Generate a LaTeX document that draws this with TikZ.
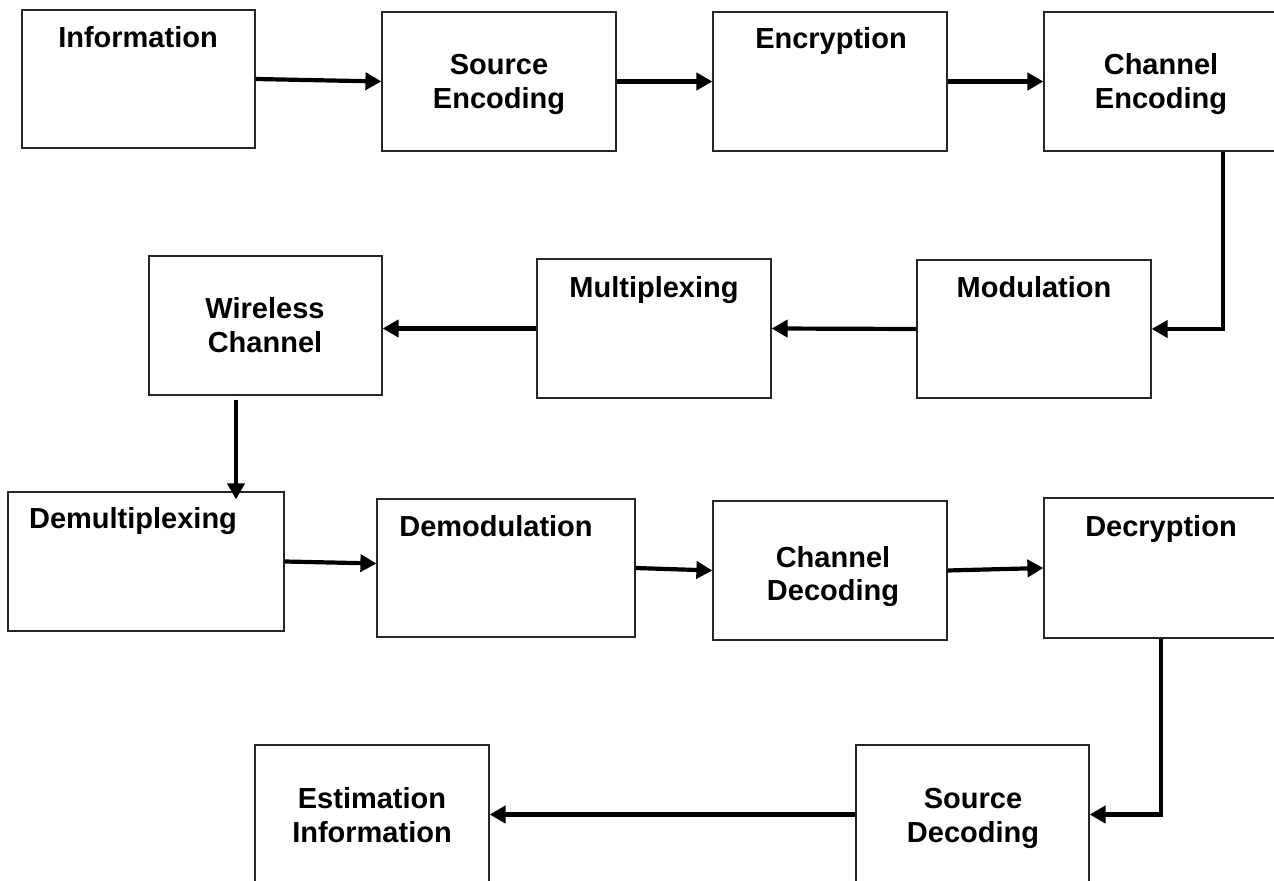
\documentclass[tikz,border=0pt]{standalone}
\usepackage{fontspec}
\setmainfont{Liberation Sans}
\usetikzlibrary{arrows.meta,fit,calc}

\tikzset{
  stage/.style={draw=black!85, line width=0.6pt, inner sep=0pt, rectangle},
  lbl/.style={font=\bfseries\fontsize{14.5pt}{17pt}\selectfont, align=center, inner sep=0pt, anchor=base},
  flow/.style={line width=2.1pt, -{Triangle[length=8pt,width=8.5pt]}}
}

\begin{document}
\begin{tikzpicture}[x=0.5pt, y=-0.5pt]
  \path[use as bounding box] (0,0) rectangle (1274,881);
  \clip (0,0) rectangle (1274,881);

  % transmitter chain
  \node[stage, fit={(22,10) (255,148)}] (info) {};
  \node[stage, fit={(382,12) (616,151)}] (senc) {};
  \node[stage, fit={(713,12) (947,151)}] (encr) {};
  \node[stage, fit={(1044,12) (1278,151)}] (cenc) {};
  \node[stage, fit={(917,260) (1151,398)}] (modu) {};
  \node[stage, fit={(537,259) (771,398)}] (mux) {};
  \node[stage, fit={(149,256) (382,395)}] (wch) {};

  % receiver chain
  \node[stage, fit={(8,492) (284,631)}] (demux) {};
  \node[stage, fit={(377,499) (635,637)}] (demod) {};
  \node[stage, fit={(713,501) (947,640)}] (cdec) {};
  \node[stage, fit={(1044,498) (1278,638)}] (decr) {};
  \node[stage, fit={(856,745) (1089,884)}] (sdec) {};
  \node[stage, fit={(255,745) (489,884)}] (est) {};

  % labels (base = baseline of the last line)
  \node[lbl] (infoT) at (138,48) {Information};
  \node[lbl] (sencT) at (499,109) {Source\\Encoding};
  \node[lbl] (encrT) at (831,49) {Encryption};
  \node[lbl] (cencT) at (1161,109) {Channel\\Encoding};
  \node[lbl] (moduT) at (1034,298) {Modulation};
  \node[lbl] (muxT) at (654,298) {Multiplexing};
  \node[lbl] (wchT) at (265,353) {Wireless\\Channel};
  \node[lbl] (demuxT) at (133,529) {Demultiplexing};
  \node[lbl] (demodT) at (496,537) {Demodulation};
  \node[lbl] (cdecT) at (833,601) {Channel\\Decoding};
  \node[lbl] (decrT) at (1161,537) {Decryption};
  \node[lbl] (sdecT) at (973,842) {Source\\Decoding};
  \node[lbl] (estT) at (372,842) {Estimation\\Information};

  % routing columns for the vertical links
  \coordinate (colA) at (1223,0);
  \coordinate (colB) at (236,0);

  % connectors
  \draw[flow] (info.east) -- (senc.west);
  \draw[flow] (senc.east) -- (encr.west);
  \draw[flow] (encr.east) -- (cenc.west);
  \draw[flow] (cenc.south -| colA) |- (modu.east);
  \draw[flow] (modu.west) -- (mux.east);
  \draw[flow] (mux.west) -- (mux.west -| wch.east);
  \draw[flow] ([yshift=-2pt]wch.south -| colB) -- ([yshift=-4pt]demux.north -| colB);
  \draw[flow] (demux.east) -- ([yshift=-1pt]demux.east -| demod.west);
  \draw[flow] (demod.east) -- (cdec.west);
  \draw[flow] (cdec.east) -- (decr.west);
  \draw[flow] (decr.south) |- (sdec.east);
  \draw[flow] (sdec.west) -- (est.east);
\end{tikzpicture}
\end{document}
